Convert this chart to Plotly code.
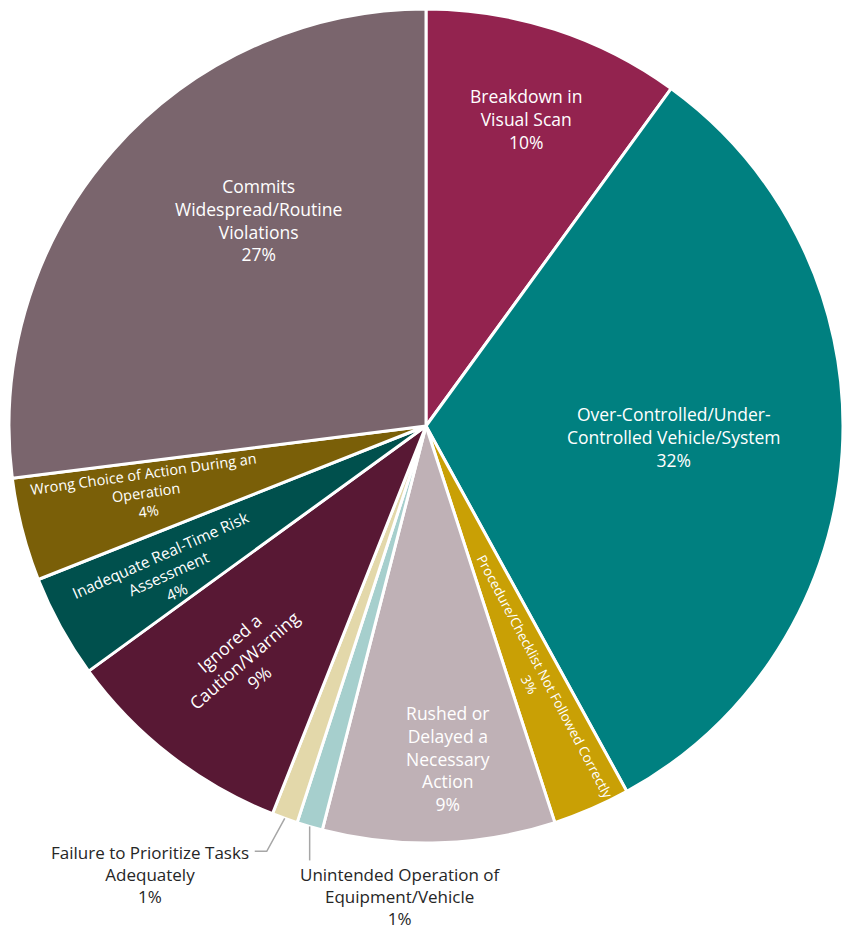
import math
import plotly.graph_objects as go

# Share of events by error type (percent), listed clockwise from 12 o'clock
categories = [
    "Breakdown in Visual Scan",
    "Over-Controlled/Under-Controlled Vehicle/System",
    "Procedure/Checklist Not Followed Correctly",
    "Rushed or Delayed a Necessary Action",
    "Unintended Operation of Equipment/Vehicle",
    "Failure to Prioritize Tasks Adequately",
    "Ignored a Caution/Warning",
    "Inadequate Real-Time Risk Assessment",
    "Wrong Choice of Action During an Operation",
    "Commits Widespread/Routine Violations",
]
percent_values = [10, 32, 3, 9, 1, 1, 9, 4, 4, 27]

# Wrapped label text for each slice
label_lines = [
    "Breakdown in<br>Visual Scan",
    "Over-Controlled/Under-<br>Controlled Vehicle/System",
    "Procedure/Checklist Not Followed Correctly",
    "Rushed or<br>Delayed a<br>Necessary<br>Action",
    "Unintended Operation of<br>Equipment/Vehicle",
    "Failure to Prioritize Tasks<br>Adequately",
    "Ignored a<br>Caution/Warning",
    "Inadequate Real-Time Risk<br>Assessment",
    "Wrong Choice of Action During an<br>Operation",
    "Commits<br>Widespread/Routine<br>Violations",
]

slice_colors = [
    "#93234F", "#008080", "#C9A005", "#BFB1B6", "#A6CFCD",
    "#E3D8AA", "#581834", "#00504D", "#7A5F08", "#7A656D",
]

# Figure geometry (pixels)
W, H = 843, 933
CX, CY, R = 426, 426, 417
FONT = "Open Sans"

# Inside-label placement: radius fraction, angular nudge (deg), text angle, font size
inside_style = {
    0: dict(r=0.775, dt=0.0, rot=0, size=17.5),
    1: dict(r=0.595, dt=-1.0, rot=0, size=17.5),
    2: dict(r=0.665, dt=0.0, rot=62, size=13.5),
    3: dict(r=0.80, dt=-2.0, rot=0, size=17.5),
    6: dict(r=0.71, dt=0.0, rot=-41, size=17.5),
    7: dict(r=0.71, dt=-1.0, rot=-24, size=15.5),
    8: dict(r=0.69, dt=1.0, rot=-8, size=14.5),
    9: dict(r=0.636, dt=9.5, rot=0, size=17.5),
}


def to_paper(x, y):
    return x / W, 1 - y / H


def polar_px(frac, deg):
    a = math.radians(deg)
    return CX + frac * R * math.sin(a), CY - frac * R * math.cos(a)


total = sum(percent_values)
mids = []
acc = 0.0
for v in percent_values:
    mids.append((acc + v / 2) / total * 360.0)
    acc += v

fig = go.Figure(
    go.Pie(
        labels=categories,
        values=percent_values,
        sort=False,
        direction="clockwise",
        rotation=0,
        textinfo="none",
        hoverinfo="label+percent",
        marker=dict(colors=slice_colors, line=dict(color="white", width=3)),
        domain=dict(
            x=[(CX - R) / W, (CX + R) / W],
            y=[1 - (CY + R) / H, 1 - (CY - R) / H],
        ),
        showlegend=False,
    )
)

annotations = []
shapes = []

for i, st in inside_style.items():
    px, py = polar_px(st["r"], mids[i] + st["dt"])
    xp, yp = to_paper(px, py)
    annotations.append(dict(
        x=xp, y=yp, xref="paper", yref="paper",
        text=f"{label_lines[i]}<br>{percent_values[i]}%",
        showarrow=False, xanchor="center", yanchor="middle",
        textangle=st["rot"], align="center",
        font=dict(family=FONT, size=st["size"], color="white"),
    ))

leader = dict(color="#A6A6A6", width=1.5)
outside_font = dict(family=FONT, size=17, color="#262626")

# Failure to Prioritize: leader angles down-left then runs horizontally to the text
i = 5
sx, sy = polar_px(1.0, mids[i])
ex, ey = sx - 18, sy + 33
hx = ex - 12
path = "M {} {} L {} {} L {} {}".format(
    *to_paper(sx, sy), *to_paper(ex, ey), *to_paper(hx, ey)
)
shapes.append(dict(type="path", xref="paper", yref="paper", path=path, line=leader))
tx, ty = to_paper(hx - 4, ey - 12)
annotations.append(dict(
    x=tx, y=ty, xref="paper", yref="paper",
    text=f"{label_lines[i]}<br>{percent_values[i]}%",
    showarrow=False, xanchor="right", yanchor="top", align="center",
    font=outside_font,
))

# Unintended Operation: vertical leader down to the text
i = 4
sx, sy = polar_px(1.0, mids[i])
ex, ey = sx, sy + 34
x0, y0 = to_paper(sx, sy)
x1, y1 = to_paper(ex, ey)
shapes.append(dict(type="line", xref="paper", yref="paper",
                   x0=x0, y0=y0, x1=x1, y1=y1, line=leader))
tx, ty = to_paper(ex - 12, ey + 1)
annotations.append(dict(
    x=tx, y=ty, xref="paper", yref="paper",
    text=f"{label_lines[i]}<br>{percent_values[i]}%",
    showarrow=False, xanchor="left", yanchor="top", align="center",
    font=outside_font,
))

fig.update_layout(
    width=W, height=H,
    margin=dict(l=0, r=0, t=0, b=0),
    paper_bgcolor="white",
    plot_bgcolor="white",
    annotations=annotations,
    shapes=shapes,
    font=dict(family=FONT),
)

fig.write_html("out.html")
